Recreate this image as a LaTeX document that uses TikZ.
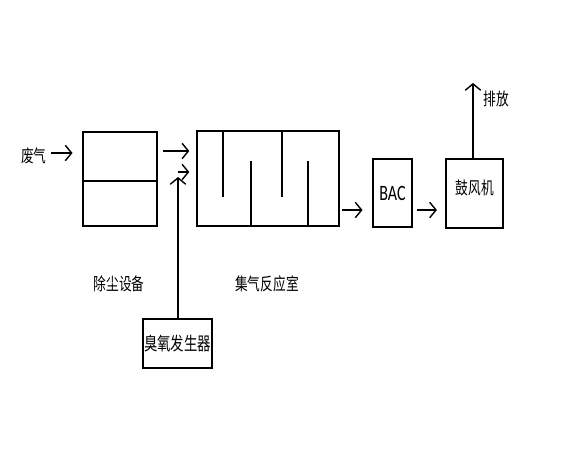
\documentclass[tikz,border=0pt]{standalone}
\usepackage{fontspec}
\setmainfont{Carlito}
\newfontfamily\cjk{Noto Sans CJK SC}
\usetikzlibrary{arrows.meta,calc,positioning}
\newcommand{\tall}[1]{\scalebox{0.95}[1.3]{#1}}
\tikzset{pin/.style={line width=1pt, -{Straight Barb[length=4.5pt, width=11pt, line width=1pt]}},
  unit/.style={draw, line width=0.9pt, inner sep=0pt, font=\fontsize{10}{12}\selectfont\cjk},
  lbl/.style={font=\fontsize{9.5}{11}\selectfont\cjk, inner sep=1pt}}

\begin{document}
\begin{tikzpicture}[x=0.025cm, y=-0.025cm]
  \useasboundingbox (0,0) rectangle (580,470);
  % boxes
  \node[unit, minimum width=1.85cm, minimum height=2.35cm] (dust) at (120,179) {};
  \node[unit, minimum width=3.55cm, minimum height=2.375cm] (rct) at (268,178.5) {};
  \node[unit, minimum width=0.975cm, minimum height=1.7cm, font=\fontsize{12}{14}\selectfont] (bac) at (392.5,193) {\tall{BAC}};
  \node[unit, minimum width=1.425cm, minimum height=1.725cm] (fan) at (474.5,193.5) {};
  \node[lbl] (fant) at (475,188) {\tall{鼓风机}};
  \node[unit, minimum width=1.725cm, minimum height=1.225cm] (oz) at (177.5,343.5) {\tall{臭氧发生器}};
  % inner lines
  \draw[line width=0.9pt] (dust.west |- 0,181) -- (dust.east |- 0,181);
  \foreach \x in {223,282} \draw[line width=0.9pt] (\x,131) -- (\x,197);
  \foreach \x in {251,308} \draw[line width=0.9pt] (\x,226) -- (\x,161);
  % labels
  \node[lbl] (gas) at (34,156) {\tall{废气}};
  \node[lbl] (dustt) at (119,284) {\tall{除尘设备}};
  \node[lbl] (rctt) at (267,284) {\tall{集气反应室}};
  \node[lbl] (out) at (496,99) {\tall{排放}};
  \coordinate (oztop) at (178,177);
  \coordinate (ozin) at (178,172);
  \coordinate (exh) at (473,83);
  % flow
  \draw[pin, shorten <=2pt, shorten >=7pt] (gas.east |- 0,153) -- (dust.west |- 0,153);
  \draw[pin, shorten <=4pt, shorten >=5pt] (dust.east |- 0,151) -- (rct.west |- 0,151);
  \draw[pin] (oz.north -| oztop) -- (oztop);
  \draw[pin, shorten >=5pt] (ozin) -- (rct.west |- ozin);
  \draw[pin, shorten <=2pt, shorten >=7pt] (rct.east |- 0,210) -- (bac.west |- 0,210);
  \draw[pin, shorten <=3pt, shorten >=6pt] (bac.east |- 0,210) -- (fan.west |- 0,210);
  \draw[pin] (fan.north -| exh) -- (exh);
\end{tikzpicture}
\end{document}
